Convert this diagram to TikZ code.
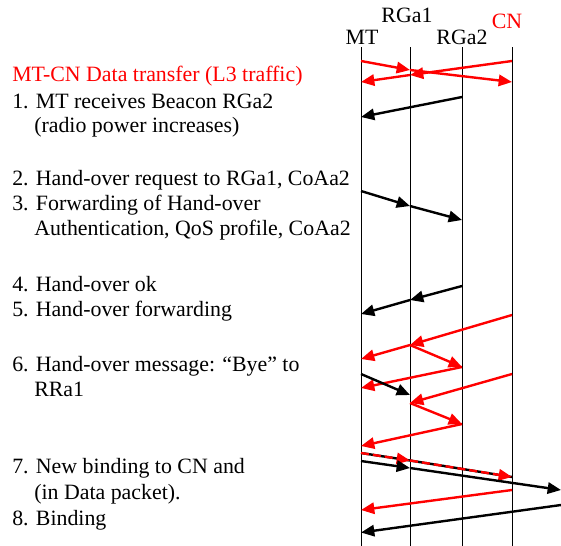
\documentclass[tikz,border=0pt]{standalone}
\usepackage{fontspec}
\setmainfont{Liberation Serif}
\usetikzlibrary{arrows.meta}
\tikzset{
  msg/.style={line width=1.8pt,-{Triangle[length=10pt,width=8.5pt]}},
  redmsg/.style={msg,red},
  life/.style={line width=0.75pt},
  txt/.style={anchor=base west,inner sep=0pt},
  head/.style={anchor=base,inner sep=0pt}
}
\begin{document}
\begin{tikzpicture}[x=0.75pt,y=-0.75pt,font=\fontsize{16.4}{18.75}\selectfont]
\useasboundingbox (0,0) rectangle (561,546);
\clip (0,0) rectangle (561,546);
% Intestazioni
\node[head](lab mt) at (362,45){MT};
\node[head](lab rg1) at (407,22.5){RGa1};
\node[head](lab rg2) at (462,45){RGa2};
\node[head,red](lab cn) at (507,28){CN};
% Linee verticali
\coordinate (MT) at (361,47);
\coordinate (RG1) at (410,47);
\coordinate (RG2) at (462,47);
\coordinate (CN) at (512,47);
\foreach \l in {MT,RG1,RG2,CN}
  \draw[life](\l)--(\l |- 0,546);
% Punti fuori a destra
\coordinate (out1) at (561,490);
\coordinate (out2) at (561,505);

% Testo a sinistra
\node[txt,red](t0) at (12,81.5){MT-CN Data transfer (L3 traffic)};
\node[txt](t1) at (12,108){1. MT receives Beacon RGa2};
\node[txt](t1b) at (34,132){(radio power increases)};
\node[txt](t2) at (12,185){2. Hand-over request to RGa1, CoAa2};
\node[txt](t3) at (12,210){3. Forwarding of Hand-over};
\node[txt](t3b) at (34,235){Authentication, QoS profile, CoAa2};
\node[txt](t4) at (12,291){4. Hand-over ok};
\node[txt](t5) at (12,316.5){5. Hand-over forwarding};
\node[txt](t6) at (12,371.5){6. Hand-over message: “Bye” to};
\node[txt](t6b) at (34,396.5){RRa1};
\node[txt](t7) at (12,473){7. New binding to CN and};
\node[txt](t7b) at (34,499){(in Data packet).};
\node[txt](t8) at (12,525){8. Binding};

% Traffico dati MT-CN
\draw[redmsg](MT |- 0,61)--(RG1 |- 0,70);
\draw[redmsg](RG1 |- 0,70)--(CN |- 0,82);
\draw[redmsg](CN |- 0,61)--(RG1 |- 0,75);
\draw[redmsg](RG1 |- 0,75)--(MT |- 0,82);
% 1. Beacon
\draw[msg](RG2 |- 0,97)--(MT |- 0,117);
% 2. e 3. richiesta e inoltro
\draw[msg](MT |- 0,191)--(RG1 |- 0,206);
\draw[msg](RG1 |- 0,206)--(RG2 |- 0,220);
% 4. e 5.
\draw[msg](RG2 |- 0,286)--(RG1 |- 0,300);
\draw[msg](RG1 |- 0,300)--(MT |- 0,314);
% Dati durante il hand-over
\draw[redmsg](CN |- 0,315)--(RG1 |- 0,345);
\draw[redmsg](RG1 |- 0,345)--(MT |- 0,359);
\draw[redmsg](RG1 |- 0,345)--(RG2 |- 0,367);
\draw[redmsg](RG2 |- 0,367)--(MT |- 0,388);
% 6. Bye
\draw[msg](MT |- 0,374)--(RG1 |- 0,395);
\draw[redmsg](CN |- 0,374)--(RG1 |- 0,403);
\draw[redmsg](RG1 |- 0,403)--(RG2 |- 0,424);
\draw[redmsg](RG2 |- 0,424)--(MT |- 0,446);
% 7. binding con dati (tratteggio rosso su nero)
\draw[line width=1.8pt](MT |- 0,453)--(RG1 |- 0,460.5);
\draw[redmsg,dash pattern=on 6pt off 3pt](MT |- 0,453)--(RG1 |- 0,460.5);
\draw[line width=1.8pt](RG1 |- 0,460.5)--(CN |- 0,477);
\draw[redmsg,dash pattern=on 6pt off 3pt](RG1 |- 0,460.5)--(CN |- 0,477);
\draw[msg](MT |- 0,461)--(RG1 |- 0,468);
\draw[msg](RG1 |- 0,468)--(out1);
% 8. conferma
\draw[redmsg](CN |- 0,490)--(MT |- 0,510);
\draw[msg](out2)--(MT |- 0,532.5);
\end{tikzpicture}
\end{document}
